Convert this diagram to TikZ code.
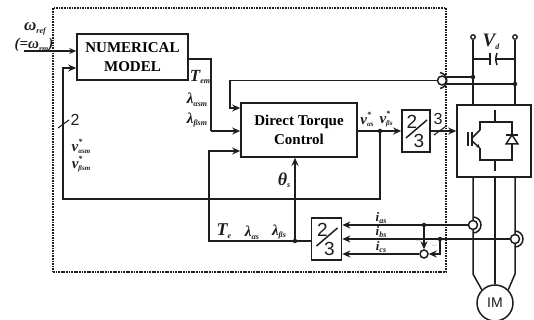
\documentclass[tikz,border=0pt]{standalone}
\usepackage{fontspec}
\setmainfont{Liberation Serif}
\newfontfamily\sansfont{Liberation Sans}
\usetikzlibrary{arrows.meta, positioning, calc}
\definecolor{wirecolor}{HTML}{1E1E1E}
\tikzset{
    box/.style={rectangle, draw=wirecolor, fill=white, line width=1.6pt, inner sep=0pt, align=center, font=\bfseries\fontsize{15}{19}\selectfont},
    ratiobox/.style={box, minimum width=30pt, minimum height=42pt},
    wire/.style={draw=wirecolor, line width=1.5pt},
    arrow/.style={wire, -{Stealth[length=8pt, width=7pt]}},
    boldwire/.style={wire, line width=2.4pt, -{Stealth[length=7pt, width=6pt]}},
    thinwire/.style={draw=wirecolor, line width=1.1pt},
    junction/.style={circle, fill=wirecolor, inner sep=0pt, minimum size=4.5pt},
    terminal/.style={circle, draw=wirecolor, fill=white, line width=1.3pt, inner sep=0pt, minimum size=4.5pt},
    sensor/.style={circle, draw=wirecolor, fill=white, line width=1.5pt, inner sep=0pt, minimum size=9pt},
    lab/.style={inner sep=0pt, text=wirecolor, font=\bfseries\itshape\fontsize{15}{15}\selectfont},
    digit/.style={inner sep=0pt, text=wirecolor, font=\sansfont\fontsize{16}{16}\selectfont},
    bigdigit/.style={digit, font=\sansfont\fontsize{19}{19}\selectfont},
    minus/.style={inner sep=0pt, text=black!45, font=\fontsize{8}{8}\selectfont}
}
\newcommand{\sig}[2]{#1\raisebox{-2.5pt}{\fontsize{8}{8}\selectfont #2}}
\newcommand{\volt}[1]{v\rlap{\smash{\raisebox{7pt}{\fontsize{8}{8}\selectfont *}}}\raisebox{-2.5pt}{\fontsize{7}{7}\selectfont #1}}
\newcommand{\ratiomarks}[1]{
    \node[bigdigit] (#1two) at ($(#1)+(-4,-9)$) {2};
    \node[bigdigit] (#1three) at ($(#1)+(3,10)$) {3};
    \draw[wire] ($(#1)+(-10,7)$) -- ($(#1)+(11,-11)$);
}
\begin{document}
\begin{tikzpicture}[x=1pt, y=-1pt]
    \useasboundingbox (0,0) rectangle (534,320);
    % controller frame
    \node[draw=wirecolor, dash pattern=on 1.7pt off 0.9pt, line width=1.4pt, minimum width=393pt, minimum height=264pt, inner sep=0pt] (frame) at (249.5,140) {};

    % blocks
    \node[box, minimum width=111pt, minimum height=46pt] (model) at (132.5,57) {NUMERICAL\\MODEL};
    \node[box, minimum width=116pt, minimum height=54pt] (dtc) at (299,130) {Direct Torque\\Control};
    \node[ratiobox, minimum width=28pt] (ratioA) at (416,131) {};
    \node[ratiobox] (ratioB) at (326.5,239) {};
    \node[box, minimum width=74pt, minimum height=72pt] (inverter) at (494,141) {};
    \node[circle, draw=wirecolor, fill=white, line width=1.5pt, minimum size=36pt, inner sep=0pt, text=wirecolor, font=\sansfont\fontsize{14}{14}\selectfont] (motor) at (495,303) {IM};
    \ratiomarks{ratioA}
    \ratiomarks{ratioB}

    % joints
    \node[terminal] (vplus) at (473,37) {};
    \node[terminal] (vminus) at (515,37) {};
    \node[junction] (dcplus) at (473,77) {};
    \node[junction] (dcminus) at (515,84) {};
    \node[junction] (tapa) at (424,225) {};
    \node[junction] (tapb) at (440,239) {};
    \node[junction] (tapv) at (380,131) {};
    \node[junction] (tapt) at (295,241) {};
    \coordinate (refin) at (24,51);

    % dc link
    \draw[wire] (vplus) -- (inverter.north -| vplus);
    \draw[wire] (vminus) -- (inverter.north -| vminus);
    \draw[wire] (vplus |- 0,59) -- (490,59);
    \draw[wire] (vminus |- 0,59) -- (496,59);
    \draw[wire] (490,53) -- (490,65);
    \draw[wire] (497,53) to[out=250, in=110] (497,65);
    \draw[wire] (445,77) -- (dcplus);
    \draw[wire] (445,84) -- (dcminus);

    % motor feeds
    \draw[wire] (inverter.south -| vplus) -- (473,274) -- (motor.135);
    \draw[wire] (inverter.south -| vminus) -- (515,274) -- (motor.45);
    \draw[wire] (inverter.south -| motor) -- (motor.north);

    % current sensors
    \node[sensor] (sensordc) at (442,80.5) {};
    \node[sensor] (sensora) at (473,225) {};
    \node[sensor] (sensorb) at (515,239) {};
    \node[sensor, minimum size=8pt] (sum) at (424,254) {};
    \draw[wire] (440,72.5) arc[start angle=-80, end angle=80, radius=8.1];
    \draw[wire] (473,217) arc[start angle=-90, end angle=90, radius=8];
    \draw[wire] (515,231) arc[start angle=-90, end angle=90, radius=8];

    % model and dtc signals
    \draw[boldwire] (refin) -- (refin -| model.west);
    \draw[wire] (model.east |- 0,59) -- (211,59) -- (211,131);
    \draw[arrow] (211,131) -- (dtc.west |- 0,131);
    \draw[arrow] (sensordc.west) -- (230,80.5) -- (230,108) -- (dtc.west |- 0,108);
    \draw[arrow] (ratioB.west |- tapt) -- (209,241) -- (209,151) -- (dtc.west |- 0,151);
    \draw[arrow] (tapt) -- (dtc.south -| tapt);
    \draw[arrow] (dtc.east |- tapv) -- (ratioA.west |- tapv);
    \draw[arrow] (tapv) -- (380,199) -- (63,199) -- (63,68) -- (model.west |- 0,68);
    \draw[arrow] (ratioA.east |- 0,131) -- (inverter.west |- 0,131);
    \draw[thinwire] (58,128) -- (69,120);
    \draw[thinwire] (434,135) -- (445,127);

    % current signals
    \draw[arrow] (sensora) -- (ratioB.east |- sensora);
    \draw[arrow] (sensorb) -- (ratioB.east |- sensorb);
    \draw[arrow] (sum) -- (ratioB.east |- sum);
    \draw[arrow] (tapa) -- (sum);
    \draw[arrow] (tapb) -- (440,254) -- (sum);

    % inverter switch
    \draw[wire] (495,110) -- (495,122) -- (512,122) -- (512,160) -- (480,160) -- (480,148);
    \draw[wire] (495,122) -- (480,122) -- (480,130);
    \draw[wire] (495,160) -- (495,171);
    \draw[wire] (468,132) -- (468,146);
    \draw[wire] (472,132) -- (472,146);
    \draw[wire] (472,138) -- (480,130);
    \draw[wire, -{Stealth[length=4pt, width=4pt]}] (472,141) -- (480,148);
    \draw[wire] (506,135) -- (518,135);
    \draw[wire, fill=white] (512,135) -- (506,144) -- (518,144) -- cycle;

    % labels
    \node[lab, font=\bfseries\itshape\fontsize{17}{17}\selectfont] (lblref) at (35,29) {\sig{ω}{ref}};
    \node[lab] (lblrm) at (34,45) {(=\sig{ω}{rm})};
    \node[lab, font=\bfseries\itshape\fontsize{17}{17}\selectfont] (lblTem) at (200,77) {\sig{T}{em}};
    \node[lab] (lblLam) at (197,100) {\sig{λ}{αsm}};
    \node[lab] (lblLbm) at (197,120) {\sig{λ}{βsm}};
    \node[digit] (lbltwo) at (75,120) {2};
    \node[lab] (lblVam) at (81,149) {\volt{αsm}};
    \node[lab] (lblVbm) at (81,167) {\volt{βsm}};
    \node[lab] (lblVas) at (367,122) {\volt{αs}};
    \node[lab] (lblVbs) at (386,122) {\volt{βs}};
    \node[digit] (lblthree) at (438,119) {3};
    \node[lab, font=\bfseries\itshape\fontsize{19}{19}\selectfont] (lblVd) at (491,42) {\sig{V}{d}};
    \node[lab, font=\bfseries\itshape\fontsize{18}{18}\selectfont] (lbltheta) at (284,180) {\sig{θ}{s}};
    \node[lab, font=\bfseries\itshape\fontsize{18}{18}\selectfont] (lblTe) at (224,231) {\sig{T}{e}};
    \node[lab] (lblLa) at (252,233) {\sig{λ}{αs}};
    \node[lab] (lblLb) at (279,232) {\sig{λ}{βs}};
    \node[lab, font=\bfseries\itshape\fontsize{13}{13}\selectfont] (lblia) at (381,218) {\sig{i}{as}};
    \node[lab, font=\bfseries\itshape\fontsize{13}{13}\selectfont] (lblib) at (381,232) {\sig{i}{bs}};
    \node[lab, font=\bfseries\itshape\fontsize{13}{13}\selectfont] (lblic) at (381,247) {\sig{i}{cs}};
    \node[minus] (minusa) at (418,241) {--};
    \node[minus] (minusb) at (434,246) {--};
\end{tikzpicture}
\end{document}
